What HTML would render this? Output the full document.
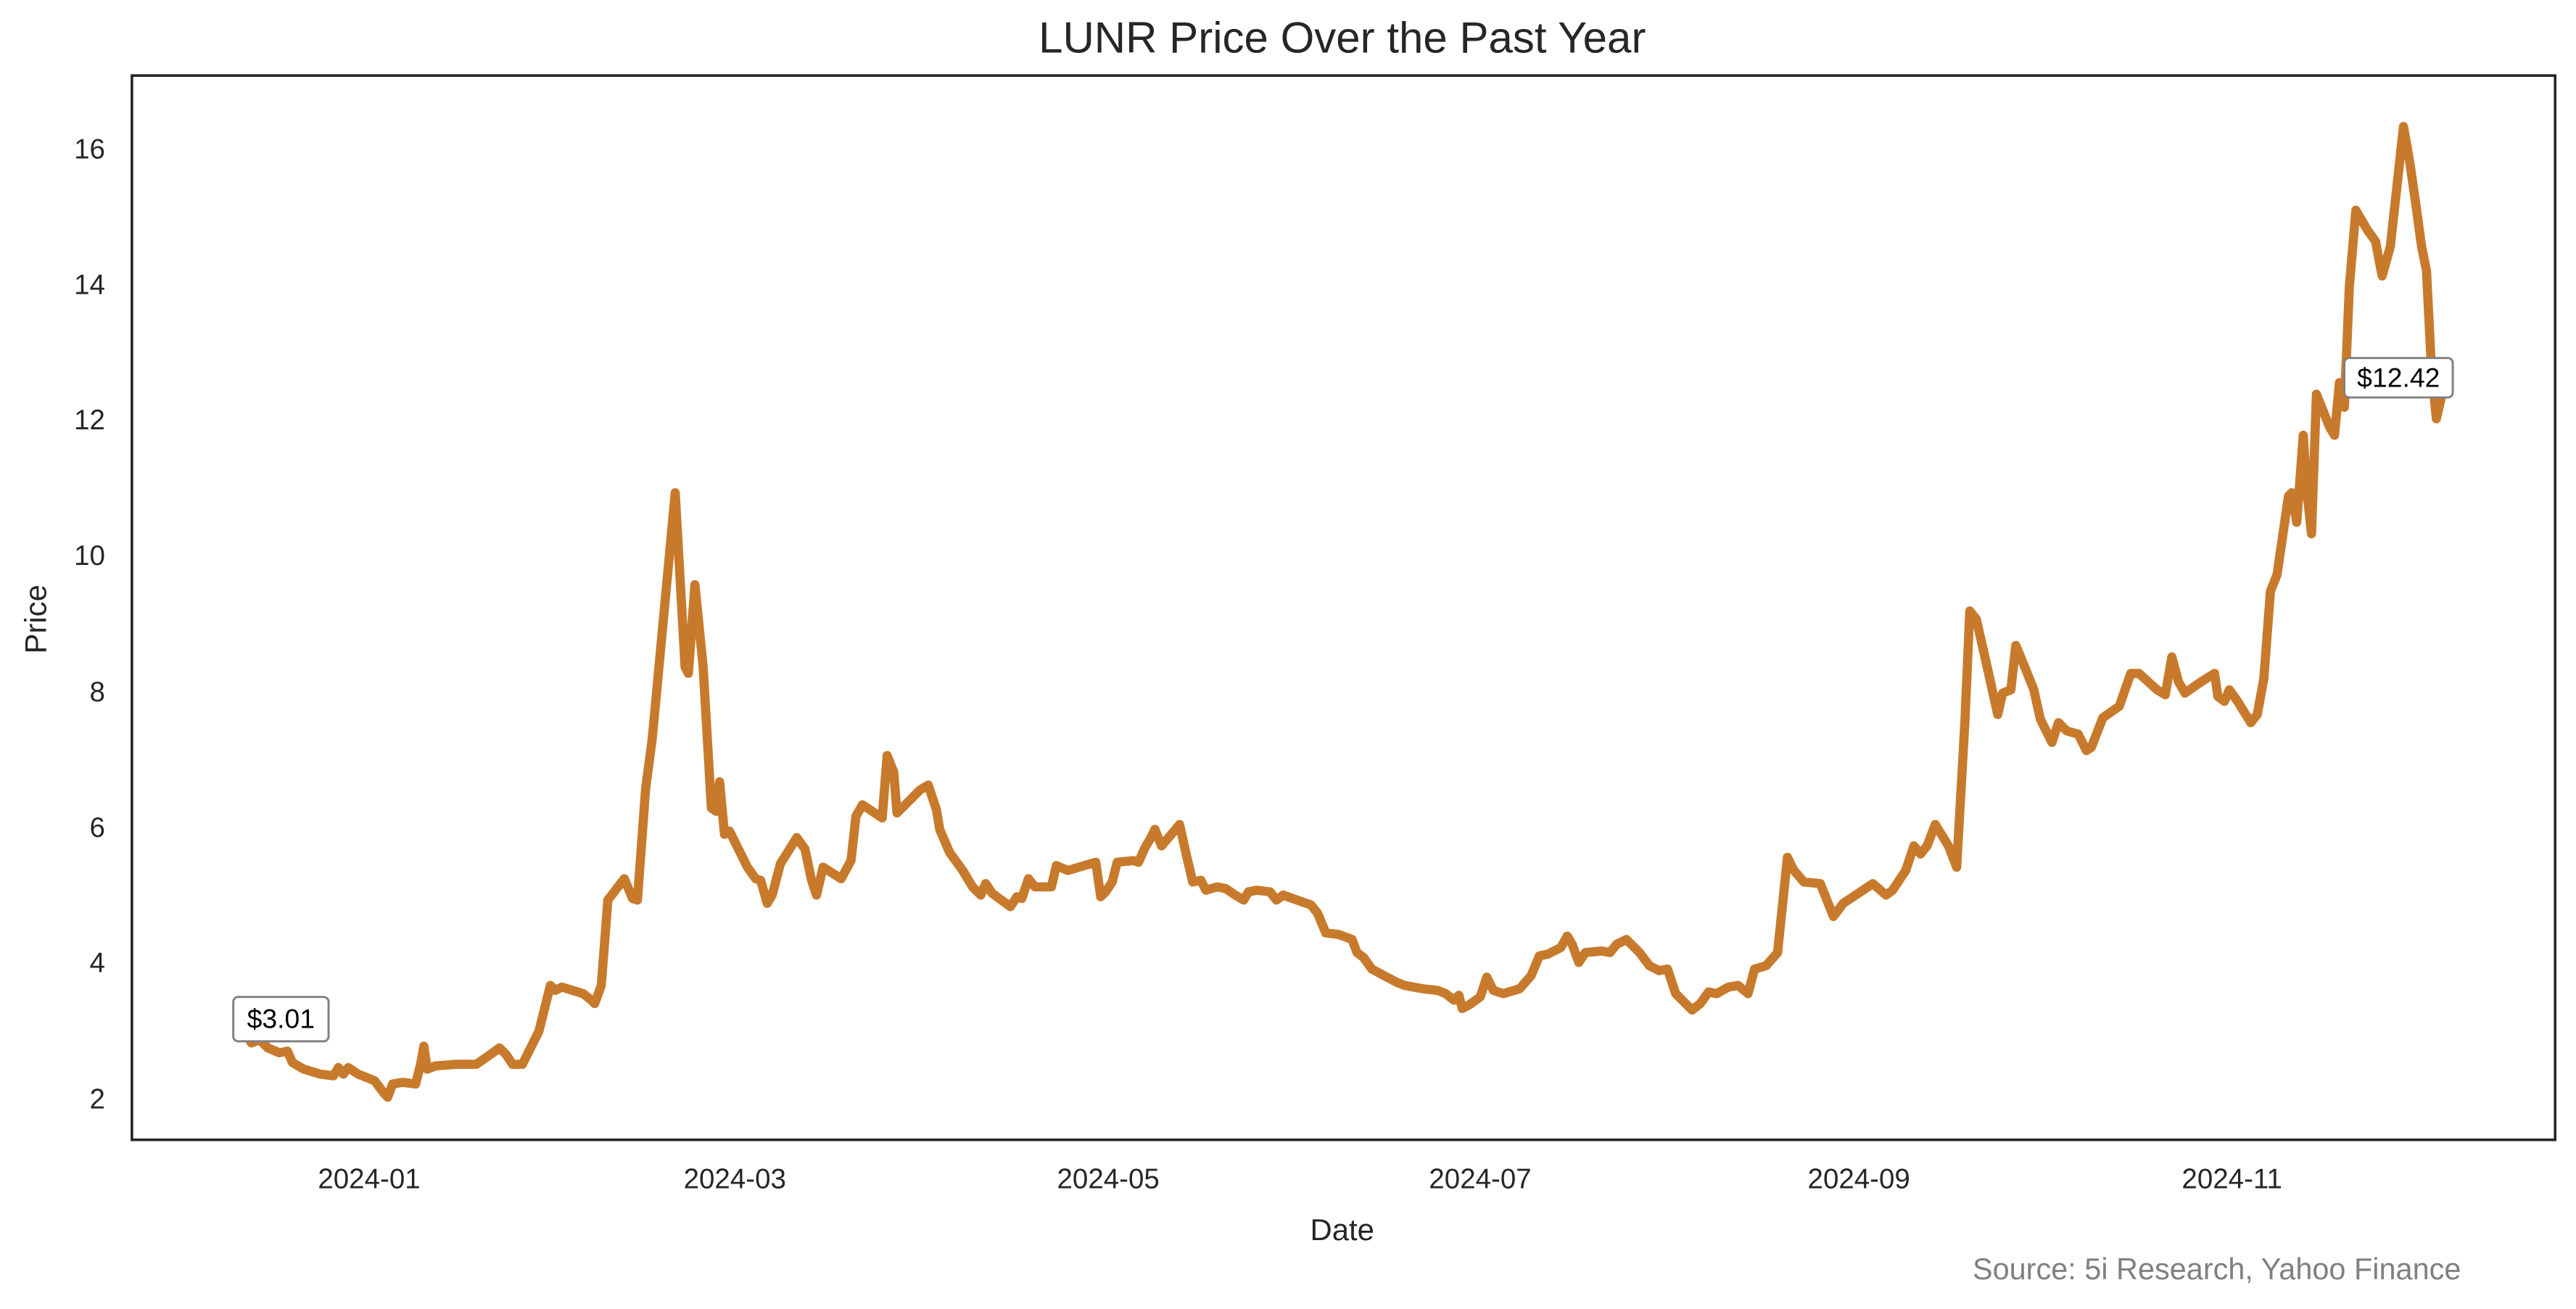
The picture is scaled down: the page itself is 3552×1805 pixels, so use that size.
<!DOCTYPE html>
<html><head><meta charset="utf-8"><style>html,body{margin:0;padding:0;background:#fff}svg{display:block}</style></head>
<body>
<svg width="3552" height="1805" viewBox="0 0 1568 797" preserveAspectRatio="none" xmlns="http://www.w3.org/2000/svg" font-family="Liberation Sans, Arial, sans-serif">
<rect width="1568" height="797" fill="#fff"/>
<text x="817" y="32" font-size="26.5" text-anchor="middle" fill="#262626">LUNR Price Over the Past Year</text>
<polyline fill="none" stroke="#c87a2c" stroke-width="5.6" stroke-linejoin="round" stroke-linecap="round" points="150,630 153,635 158,633 163,638 170,641 175,640 178,647 185,651 195,654 203,655 206,650 209,654 212,650 218,654 228,658 234,666 236,668 239,660 245,659 253,660 256,648 258,637 260,651 265,649 278,648 287,648 290,648 300,641 304,638 308,642 312,648 318,648 328,628 335,600 338,603 342,601 355,605 360,609 362,611 366,600 370,548 380,535 385,547 388,548 393,480 397,450 411,300 417,406 419,410 423,356 428,406 433,492 436,494 438,476 441,508 444,506 455,528 460,535 463,536 467,550 470,545 475,526 485,510 490,517 494,536 497,545 501,528 512,535 518,524 521,497 525,490 537,498 540,460 544,470 546,495 560,481 565,478 570,493 572,505 578,519 586,530 592,540 597,545 600,538 604,544 615,552 619,546 622,547 626,535 630,540 640,540 643,527 650,530 660,527 667,525 670,546 673,543 677,537 680,525 690,524 693,525 697,516 700,511 703,505 707,515 713,508 718,502 722,520 726,537 731,536 734,542 741,540 746,541 752,545 757,548 760,543 765,542 773,543 777,548 781,545 798,551 802,556 807,568 815,569 823,572 826,580 830,583 835,590 850,598 855,600 866,602 875,603 880,605 885,609 888,606 890,614 894,612 901,607 905,595 909,603 915,605 925,602 932,594 937,582 942,581 950,577 954,570 957,575 961,586 965,580 975,579 980,580 984,575 990,572 998,580 1004,588 1010,591 1015,590 1020,605 1030,615 1035,611 1040,604 1045,605 1052,601 1058,600 1064,605 1068,590 1075,588 1082,580 1088,522 1092,530 1098,537 1108,538 1112,548 1116,558 1122,550 1125,548 1140,538 1148,545 1152,542 1160,530 1165,515 1169,520 1173,515 1178,502 1186,515 1191,528 1196,440 1199,372 1203,377 1210,408 1216,435 1219,422 1224,420 1227,393 1232,405 1238,420 1242,438 1249,452 1253,440 1258,445 1265,447 1270,457 1273,455 1280,437 1290,430 1297,410 1302,410 1313,420 1318,423 1322,400 1326,415 1330,422 1340,415 1348,410 1350,424 1354,427 1357,420 1362,427 1370,440 1374,435 1378,413 1382,360 1386,350 1393,302 1395,300 1398,318 1402,265 1404,297 1407,325 1410,240 1418,260 1421,265 1424,233 1427,248 1430,175 1434,128 1441,140 1446,147 1450,168 1455,150 1463,77 1467,100 1471,128 1474,150 1477,165 1480,224 1483,255 1486,242 1489,232"/>
<rect x="80.3" y="46" width="1475" height="648" fill="none" stroke="#262626" stroke-width="1.6"/>
<g font-size="17" fill="#262626" text-anchor="end">
<text x="64" y="96.5">16</text><text x="64" y="179">14</text><text x="64" y="261.5">12</text><text x="64" y="344">10</text>
<text x="64" y="427">8</text><text x="64" y="509.5">6</text><text x="64" y="592">4</text><text x="64" y="675">2</text>
</g>
<g font-size="17" fill="#262626" text-anchor="middle">
<text x="224.7" y="723.5">2024-01</text><text x="447.3" y="723.5">2024-03</text><text x="674.6" y="723.5">2024-05</text>
<text x="901" y="723.5">2024-07</text><text x="1131.5" y="723.5">2024-09</text><text x="1358.6" y="723.5">2024-11</text>
<text x="817" y="755" font-size="18.5">Date</text>
</g>
<text transform="translate(28,377) rotate(-90)" font-size="18.5" fill="#262626" text-anchor="middle">Price</text>
<g>
<rect x="142" y="607" width="58" height="27" rx="3" fill="#fff" stroke="#808080" stroke-width="1.3"/>
<text x="171" y="626" font-size="16.5" text-anchor="middle" fill="#000">$3.01</text>
<rect x="1427" y="218" width="66" height="24" rx="3" fill="#fff" stroke="#808080" stroke-width="1.3"/>
<text x="1460" y="235.5" font-size="16.5" text-anchor="middle" fill="#000">$12.42</text>
</g>
<text x="1498" y="779" font-size="18.3" text-anchor="end" fill="#808080">Source: 5i Research, Yahoo Finance</text>
</svg>
</body></html>
